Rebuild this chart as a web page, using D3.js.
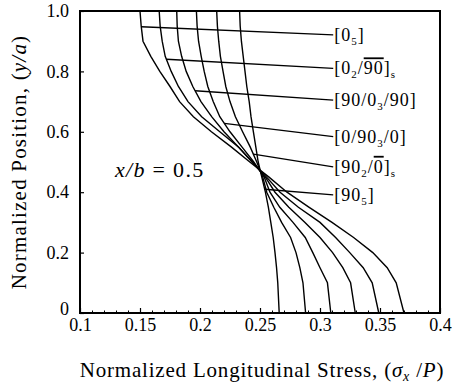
<!DOCTYPE html>
<html>
<head>
<meta charset="utf-8">
<script src="https://cdn.jsdelivr.net/npm/d3@7"></script>
<style>
  body { margin: 0; background: #fff; }
  svg { display: block; }
  svg text { font-family: "Liberation Serif", "Times New Roman", Times, "DejaVu Serif", serif; fill: #000; }
</style>
</head>
<body>
<div id="chart"></div>
<script>
const yLevels = [1.0, 0.95, 0.9, 0.85, 0.8, 0.75, 0.7, 0.65, 0.6, 0.55, 0.5,
    0.45, 0.4, 0.35, 0.3, 0.25, 0.2, 0.15, 0.1, 0];

// normalized longitudinal stress sigma_x/P, one array per laminate
const stress0_5 = [0.150, 0.151, 0.1525, 0.159, 0.1665, 0.175, 0.183, 0.1945, 0.2095, 0.226, 0.2415,
    0.2575, 0.2725, 0.291, 0.310, 0.328, 0.344, 0.356, 0.3635, 0.370];
const stress0_2_90 = [0.166, 0.1668, 0.1685, 0.171, 0.176, 0.182, 0.190, 0.2014, 0.2165, 0.232, 0.2435,
    0.2555, 0.2667, 0.282, 0.300, 0.313, 0.3248, 0.336, 0.3435, 0.349];
const stress90_0_3_90 = [0.1806, 0.181, 0.182, 0.1847, 0.1885, 0.194, 0.2008, 0.2097, 0.220, 0.232, 0.2435,
    0.2545, 0.2625, 0.274, 0.2875, 0.300, 0.3105, 0.319, 0.3255, 0.3294];
const stress0_90_3_0 = [0.197, 0.1976, 0.1988, 0.201, 0.2035, 0.2065, 0.211, 0.2165, 0.225, 0.2349, 0.2448,
    0.2535, 0.2583, 0.2665, 0.2775, 0.2877, 0.294, 0.300, 0.3062, 0.309];
const stress90_2_0 = [0.2139, 0.2145, 0.2156, 0.217, 0.2192, 0.2215, 0.225, 0.2295, 0.2355, 0.2418, 0.2473,
    0.2523, 0.2556, 0.2615, 0.268, 0.2755, 0.280, 0.2832, 0.2858, 0.288];
const stress90_5 = [0.233, 0.2335, 0.2345, 0.236, 0.2375, 0.239, 0.241, 0.2425, 0.2445, 0.2465, 0.2485,
    0.2515, 0.2545, 0.257, 0.259, 0.261, 0.2625, 0.2638, 0.2648, 0.266];

const seriesValues = [stress0_5, stress0_2_90, stress90_0_3_90, stress0_90_3_0, stress90_2_0, stress90_5];

// legend labels, as [text, kind] pieces (kind: n = normal, sub = subscript, bar = overlined)
const seriesLabels = [
    [['[0', 'n'], ['5', 'sub'], [']', 'n']],
    [['[0', 'n'], ['2', 'sub'], ['/', 'n'], ['90', 'bar'], [']', 'n'], ['s', 'sub']],
    [['[90/0', 'n'], ['3', 'sub'], ['/90]', 'n']],
    [['[0/90', 'n'], ['3', 'sub'], ['/0]', 'n']],
    [['[90', 'n'], ['2', 'sub'], ['/', 'n'], ['0', 'bar'], [']', 'n'], ['s', 'sub']],
    [['[90', 'n'], ['5', 'sub'], [']', 'n']]
];
// y/a where each leader leaves its curve, and where it meets the label
const leaderStartY = [0.948, 0.840, 0.736, 0.628, 0.526, 0.410];
const leaderEndY = [0.921, 0.810, 0.705, 0.584, 0.484, 0.391];
const leaderEndX = 0.311;

const xTicks = [0.1, 0.15, 0.2, 0.25, 0.3, 0.35, 0.4];
const xTickLabels = ['0.1', '0.15', '0.2', '0.25', '0.3', '0.35', '0.4'];
const yTicks = [0, 0.2, 0.4, 0.6, 0.8, 1.0];
const yTickLabels = ['0', '0.2', '0.4', '0.6', '0.8', '1.0'];

const width = 452, height = 391;
const margin = {top: 11, right: 12, bottom: 78, left: 80};
const serif = '"Liberation Serif", "Times New Roman", Times, "DejaVu Serif", serif';

const svg = d3.select('#chart').append('svg')
    .attr('width', width).attr('height', height);

const x = d3.scaleLinear().domain([0.1, 0.4]).range([margin.left, width - margin.right]);
const y = d3.scaleLinear().domain([0, 1]).range([height - margin.bottom, margin.top]);

// minor ticks every 0.01 along the bottom
const minorX = d3.range(11, 40).map(function (d) { return d / 100; })
    .filter(function (d) { return Math.round(d * 100) % 5 !== 0; });
svg.append('g')
    .attr('transform', `translate(0,${y(0)})`)
    .call(d3.axisBottom(x).tickValues(minorX).tickSize(-2.5).tickFormat(''))
    .call(function (g) { g.select('.domain').remove(); })
    .selectAll('line').attr('stroke', '#000').attr('stroke-width', 1);

const xAxis = svg.append('g')
    .attr('transform', `translate(0,${y(0)})`)
    .call(d3.axisBottom(x).tickValues(xTicks).tickSize(-5).tickPadding(5)
        .tickFormat(function (d, i) { return xTickLabels[i]; }));
xAxis.attr('font-family', serif).attr('font-size', 18);
xAxis.select('.domain').remove();
xAxis.selectAll('line').attr('stroke', '#000').attr('stroke-width', 1.2);

const yAxis = svg.append('g')
    .attr('transform', `translate(${x(0.1)},0)`)
    .call(d3.axisLeft(y).tickValues(yTicks).tickSize(-4).tickPadding(11)
        .tickFormat(function (d, i) { return yTickLabels[i]; }));
yAxis.attr('font-family', serif).attr('font-size', 18);
yAxis.select('.domain').remove();
yAxis.selectAll('line').attr('stroke', '#000').attr('stroke-width', 1.2);
yAxis.selectAll('text').filter(function (d) { return d === 0; }).attr('dy', '0.1em');

// plot frame
svg.append('rect')
    .attr('x', x(0.1)).attr('y', y(1))
    .attr('width', x(0.4) - x(0.1)).attr('height', y(0) - y(1))
    .attr('fill', 'none').attr('stroke', '#000').attr('stroke-width', 2);

const line = d3.line()
    .x(function (d) { return x(d[0]); })
    .y(function (d) { return y(d[1]); });

svg.append('g').selectAll('path')
    .data(seriesValues)
    .join('path')
    .attr('d', function (vals) { return line(vals.map(function (v, i) { return [v, yLevels[i]]; })); })
    .attr('fill', 'none').attr('stroke', '#000').attr('stroke-width', 1.4);

// stress on a curve at a given y/a (curves are stored top-down)
function stressAt(vals, yy) {
    for (let i = 0; i < yLevels.length - 1; i += 1) {
        if (yy <= yLevels[i] && yy >= yLevels[i + 1]) {
            const t = (yLevels[i] - yy) / (yLevels[i] - yLevels[i + 1]);
            return vals[i] + t * (vals[i + 1] - vals[i]);
        }
    }
    return vals[vals.length - 1];
}

const leaders = svg.append('g');
seriesValues.forEach(function (vals, k) {
    leaders.append('line')
        .attr('x1', x(stressAt(vals, leaderStartY[k]))).attr('y1', y(leaderStartY[k]))
        .attr('x2', x(leaderEndX)).attr('y2', y(leaderEndY[k]))
        .attr('stroke', '#000').attr('stroke-width', 1.4);

    const t = leaders.append('text')
        .attr('x', x(leaderEndX) + 1).attr('y', y(leaderEndY[k]) + 6)
        .attr('font-size', 18).attr('letter-spacing', 1);
    let shifted = false;
    seriesLabels[k].forEach(function (part) {
        const ts = t.append('tspan').text(part[0]);
        if (part[1] === 'sub') {
            ts.attr('font-size', 11).attr('dy', shifted ? 0 : 4);
            shifted = true;
        } else {
            if (shifted) ts.attr('dy', -4);
            shifted = false;
            if (part[1] === 'bar') ts.style('text-decoration', 'overline');
        }
    });
});

// in-plot annotation
const note = svg.append('text')
    .attr('x', 115).attr('y', 177)
    .attr('font-size', 22).attr('letter-spacing', 1.3);
note.append('tspan').style('font-style', 'italic').text('x/b');
note.append('tspan').text(' = 0.5');

// axis titles
const xTitle = svg.append('text')
    .attr('x', 262).attr('y', 377)
    .attr('text-anchor', 'middle').attr('font-size', 21).attr('letter-spacing', 0.8);
xTitle.append('tspan').text('Normalized Longitudinal Stress, (');
xTitle.append('tspan').style('font-style', 'italic').text('σ');
xTitle.append('tspan').style('font-style', 'italic').attr('font-size', 14).attr('dy', 4).text('x');
xTitle.append('tspan').attr('dy', -4).text(' /');
xTitle.append('tspan').style('font-style', 'italic').text('P');
xTitle.append('tspan').text(')');

const yTitle = svg.append('text')
    .attr('transform', `translate(26,${(y(0) + y(1)) / 2}) rotate(-90)`)
    .attr('text-anchor', 'middle').attr('font-size', 21).attr('letter-spacing', 1.2);
yTitle.append('tspan').text('Normalized Position, (');
yTitle.append('tspan').style('font-style', 'italic').text('y/a');
yTitle.append('tspan').text(')');
</script>
</body>
</html>
